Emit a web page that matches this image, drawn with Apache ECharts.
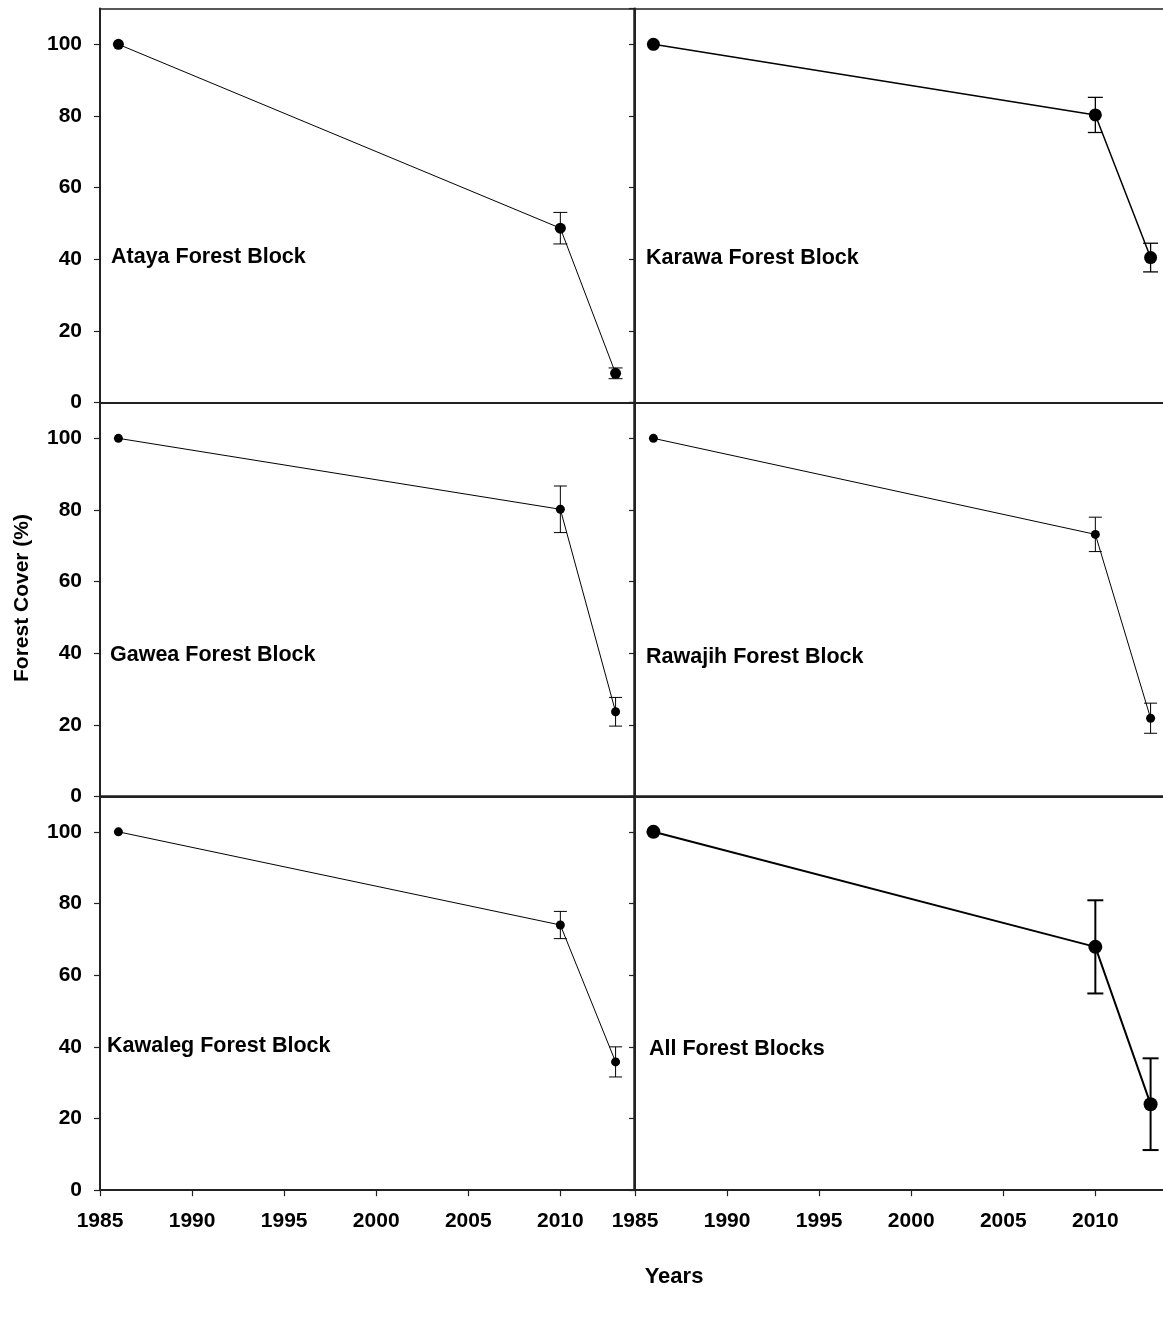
<!DOCTYPE html>
<html>
<head>
<meta charset="utf-8">
<script src="https://cdn.jsdelivr.net/npm/echarts@6/dist/echarts.min.js"></script>
<style>
html,body{margin:0;padding:0;background:#fff;}
#chart{width:1163px;height:1318px;}
</style>
</head>
<body>
<div id="chart"></div>
<script>
// ---- Data ----
const years = [1986, 2010, 2013];
const xTicks = [1985, 1990, 1995, 2000, 2005, 2010];
const yTicks = [0, 20, 40, 60, 80, 100];

const panelNames = ['Ataya Forest Block', 'Karawa Forest Block', 'Gawea Forest Block',
                    'Rawajih Forest Block', 'Kawaleg Forest Block', 'All Forest Blocks'];

const ataya      = [100, 48.7, 8.2];
const atayaErr   = [0, 4.4, 1.5];
const karawa     = [100, 80.3, 40.5];
const karawaErr  = [0, 4.9, 4.0];
const gawea      = [100, 80.2, 23.7];
const gaweaErr   = [0, 6.5, 4.0];
const rawajih    = [100, 73.2, 21.9];
const rawajihErr = [0, 4.8, 4.2];
const kawaleg    = [100, 74.0, 35.8];
const kawalegErr = [0, 3.8, 4.2];
const allBlocks  = [100, 67.9, 24.0];
const allErr     = [0, 13.0, 12.8];

const yTitle = 'Forest Cover (%)';
const xTitle = 'Years';

// ---- Layout / style ----
const FONT = '"Liberation Sans", Arial, sans-serif';
const X_MIN = 1985;
const PX_PER_YEAR = 534 / 29;            // left panels span 1985..2014
const RIGHT_W = 1163 - 635;              // right panels are cut by the page edge
const RIGHT_MAX = X_MIN + RIGHT_W / PX_PER_YEAR;

const panels = [
  {vals: ataya,   err: atayaErr,   left: 100, top: 8.5,   sym: 11, lw: 1,   elw: 1,   cap: 14, lx: 111, ly: 257},
  {vals: karawa,  err: karawaErr,  left: 635, top: 8.5,   sym: 13, lw: 1.5, elw: 1.3, cap: 15, lx: 646, ly: 258},
  {vals: gawea,   err: gaweaErr,   left: 100, top: 402.5, sym: 9,  lw: 1,   elw: 1,   cap: 13, lx: 110, ly: 655},
  {vals: rawajih, err: rawajihErr, left: 635, top: 402.5, sym: 9,  lw: 1,   elw: 1,   cap: 13, lx: 646, ly: 657},
  {vals: kawaleg, err: kawalegErr, left: 100, top: 796,   sym: 9,  lw: 1,   elw: 1,   cap: 13, lx: 107, ly: 1046},
  {vals: allBlocks, err: allErr,   left: 635, top: 796,   sym: 14, lw: 2,   elw: 2,   cap: 16, lx: 649, ly: 1049}
];
const GH = 394.2;

const grid = [], xAxis = [], yAxis = [], series = [], graphic = [];

panels.forEach((p, i) => {
  const isLeft = (i % 2 === 0);
  const isBottom = (i >= 4);
  const w = isLeft ? 534 : RIGHT_W;
  const xmax = isLeft ? 2014 : RIGHT_MAX;
  grid.push({left: p.left, top: p.top, width: w, height: GH, containLabel: false});
  // bottom x axis
  xAxis.push({
    type: 'value', gridIndex: i, min: X_MIN, max: xmax, interval: 5, position: 'bottom',
    axisLine: {show: true, onZero: false, lineStyle: {color: '#222', width: 2}},
    axisTick: {show: isBottom, inside: false, length: 6, lineStyle: {color: '#222', width: 1.2}},
    axisLabel: {show: isBottom, showMaxLabel: false, margin: 21, color: '#000',
      fontFamily: FONT, fontWeight: 'bold', fontSize: 21,
      formatter: v => (xTicks.indexOf(v) >= 0 ? String(v) : '')},
    splitLine: {show: false}
  });
  // top x axis (box border)
  xAxis.push({
    type: 'value', gridIndex: i, min: X_MIN, max: xmax, interval: 5, position: 'top',
    axisLine: {show: true, onZero: false, lineStyle: {color: '#222', width: 1.5}},
    axisTick: {show: false}, axisLabel: {show: false}, splitLine: {show: false}
  });
  // left y axis
  yAxis.push({
    type: 'value', gridIndex: i, min: 0, max: 110, interval: 20, position: 'left',
    axisLine: {show: true, onZero: false, lineStyle: {color: '#222', width: 2}},
    axisTick: {show: true, inside: false, length: 6, lineStyle: {color: '#222', width: 1.2}},
    axisLabel: {show: isLeft, showMaxLabel: false, margin: 18, color: '#000',
      fontFamily: FONT, fontWeight: 'bold', fontSize: 21,
      formatter: v => (yTicks.indexOf(v) >= 0 ? String(v) : '')},
    splitLine: {show: false}
  });
  // right y axis (box border; right panels are cut off at the page edge)
  yAxis.push({
    type: 'value', gridIndex: i, min: 0, max: 110, interval: 20, position: 'right',
    axisLine: {show: isLeft, onZero: false, lineStyle: {color: '#222', width: 1.5}},
    axisTick: {show: false}, axisLabel: {show: false}, splitLine: {show: false}
  });

  const lineData = years.map((y, k) => [y, p.vals[k]]);
  const errData = years.map((y, k) => [y, p.vals[k] - p.err[k], p.vals[k] + p.err[k], p.err[k]])
                       .filter(d => d[3] > 0);

  series.push({
    type: 'custom', xAxisIndex: 2 * i, yAxisIndex: 2 * i, z: 2, clip: false,
    data: errData,
    renderItem: (function (cap, elw) {
      return function (params, api) {
        const x = api.value(0), lo = api.value(1), hi = api.value(2);
        const t = api.coord([x, hi]);
        const b = api.coord([x, lo]);
        const hw = cap / 2;
        const st = {stroke: '#000', lineWidth: elw};
        return {type: 'group', children: [
          {type: 'line', shape: {x1: t[0], y1: t[1], x2: b[0], y2: b[1]}, style: st},
          {type: 'line', shape: {x1: t[0] - hw, y1: t[1], x2: t[0] + hw, y2: t[1]}, style: st},
          {type: 'line', shape: {x1: b[0] - hw, y1: b[1], x2: b[0] + hw, y2: b[1]}, style: st}
        ]};
      };
    })(p.cap, p.elw)
  });
  series.push({
    type: 'line', xAxisIndex: 2 * i, yAxisIndex: 2 * i, z: 3, clip: false,
    data: lineData, symbol: 'circle', symbolSize: p.sym, showSymbol: true,
    lineStyle: {color: '#000', width: p.lw}, itemStyle: {color: '#000'},
    emphasis: {disabled: true}
  });

  graphic.push({
    type: 'text', x: p.lx, y: p.ly, z: 10,
    style: {text: panelNames[i], fill: '#000', font: 'bold 21.5px ' + FONT,
      textAlign: 'left', textVerticalAlign: 'middle'}
  });
});

graphic.push({
  type: 'text', x: 22, y: 598, rotation: Math.PI / 2, z: 10,
  style: {text: yTitle, fill: '#000', font: 'bold 21px ' + FONT,
    textAlign: 'center', textVerticalAlign: 'middle'}
});
graphic.push({
  type: 'text', x: 674, y: 1277, z: 10,
  style: {text: xTitle, fill: '#000', font: 'bold 22px ' + FONT,
    textAlign: 'center', textVerticalAlign: 'middle'}
});

const chart = echarts.init(document.getElementById('chart'), null, {renderer: 'canvas'});
chart.setOption({
  animation: false,
  backgroundColor: '#fff',
  grid: grid, xAxis: xAxis, yAxis: yAxis, series: series, graphic: graphic
});
</script>
</body>
</html>
